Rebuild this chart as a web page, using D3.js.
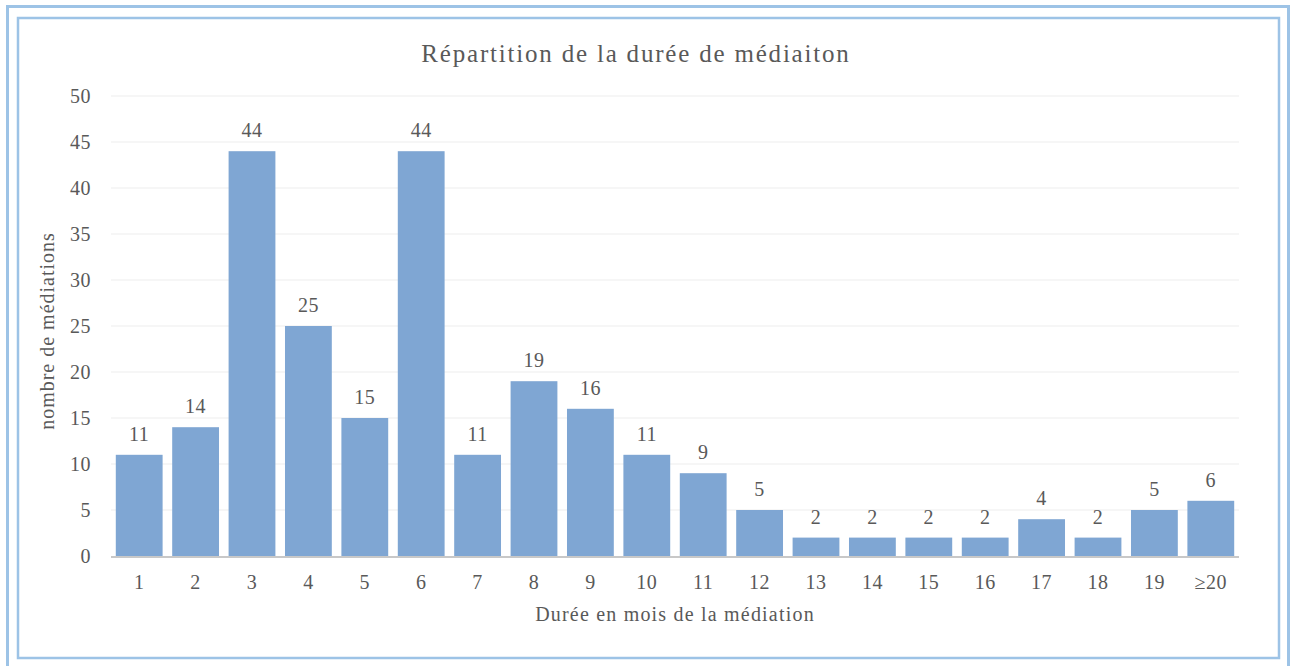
<!DOCTYPE html>
<html>
<head>
<meta charset="utf-8">
<script src="https://cdn.jsdelivr.net/npm/d3@7"></script>
<style>
  body { margin: 0; background: #fff; }
  text { font-family: "Liberation Serif", "DejaVu Serif", serif; fill: #595959; }
</style>
</head>
<body>
<script>
// data
var categories = ["1","2","3","4","5","6","7","8","9","10","11","12","13","14","15","16","17","18","19","\u226520"];
var counts = [11,14,44,25,15,44,11,19,16,11,9,5,2,2,2,2,4,2,5,6];
var yTicks = [0,5,10,15,20,25,30,35,40,45,50];

var W = 1296, H = 666;
var margin = {top: 96, right: 57, bottom: 110, left: 111},
    width = W - margin.left - margin.right,
    height = H - margin.top - margin.bottom;

var root = d3.select("body").append("svg")
    .attr("width", W)
    .attr("height", H);

// frames
root.append("rect")
    .attr("x", 7.5).attr("y", 6.5)
    .attr("width", 1281).attr("height", 670)
    .attr("fill", "none").attr("stroke", "#9dc3e6").attr("stroke-width", 3);
root.append("rect")
    .attr("x", 18).attr("y", 18)
    .attr("width", 1261).attr("height", 640)
    .attr("fill", "none").attr("stroke", "#9dc3e6").attr("stroke-width", 2.5);

var svg = root.append("g")
    .attr("transform", "translate(" + margin.left + "," + margin.top + ")");

var x = d3.scaleBand().domain(categories).range([0, width]).paddingInner(0.17).paddingOuter(0.085);
var y = d3.scaleLinear().domain([0, 50]).range([height, 0]);

// gridlines
svg.append("g")
    .selectAll("line")
    .data(yTicks.slice(1))
  .enter().append("line")
    .attr("x1", 0).attr("x2", width)
    .attr("y1", function(d) { return y(d); })
    .attr("y2", function(d) { return y(d); })
    .attr("stroke", "#ededed").attr("stroke-width", 1);

// y tick labels
svg.append("g")
    .selectAll("text")
    .data(yTicks)
  .enter().append("text")
    .attr("x", -20)
    .attr("y", function(d) { return y(d); })
    .attr("dy", "0.35em")
    .attr("text-anchor", "end")
    .attr("font-size", "20px")
    .attr("letter-spacing", "0.5px")
    .text(function(d) { return d; });

// bars
svg.selectAll(".bar")
    .data(counts)
  .enter().append("rect")
    .attr("class", "bar")
    .attr("x", function(d, i) { return x(categories[i]); })
    .attr("y", function(d) { return y(d); })
    .attr("width", x.bandwidth())
    .attr("height", function(d) { return height - y(d); })
    .attr("fill", "#7fa6d3");

// value labels
svg.selectAll(".lbl")
    .data(counts)
  .enter().append("text")
    .attr("class", "lbl")
    .attr("x", function(d, i) { return x(categories[i]) + x.bandwidth() / 2; })
    .attr("y", function(d) { return y(d) - 14; })
    .attr("text-anchor", "middle")
    .attr("font-size", "20px")
    .attr("letter-spacing", "0.5px")
    .text(function(d) { return d; });

// x axis line
svg.append("line")
    .attr("x1", 0).attr("x2", width)
    .attr("y1", height + 1).attr("y2", height + 1)
    .attr("stroke", "#c8c8c8").attr("stroke-width", 2);

// x tick labels
svg.append("g")
    .selectAll("text")
    .data(categories)
  .enter().append("text")
    .attr("x", function(d) { return x(d) + x.bandwidth() / 2; })
    .attr("y", height + 33)
    .attr("text-anchor", "middle")
    .attr("font-size", "20px")
    .attr("letter-spacing", "0.5px")
    .text(function(d) { return d; });

// title
root.append("text")
    .attr("x", 636).attr("y", 62)
    .attr("text-anchor", "middle")
    .attr("font-size", "25px")
    .attr("letter-spacing", "1.8px")
    .text("Répartition de la durée de médiaiton");

// axis titles
root.append("text")
    .attr("x", 675).attr("y", 621)
    .attr("text-anchor", "middle")
    .attr("font-size", "20px")
    .attr("letter-spacing", "1.2px")
    .text("Durée en mois de la médiation");

root.append("text")
    .attr("transform", "translate(54,331) rotate(-90)")
    .attr("text-anchor", "middle")
    .attr("font-size", "20px")
    .attr("letter-spacing", "1px")
    .text("nombre de médiations");
</script>
</body>
</html>
